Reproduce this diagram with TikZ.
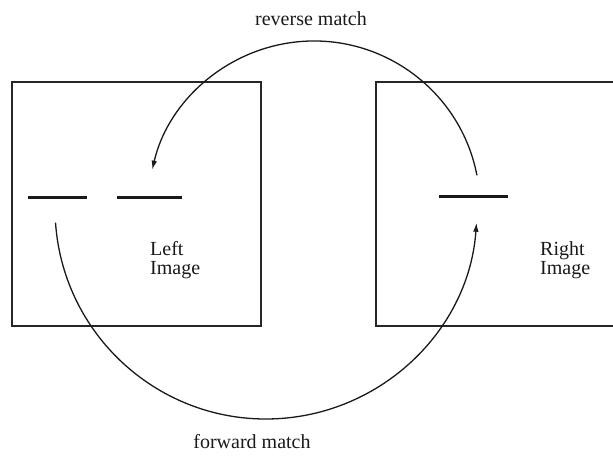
\documentclass[tikz,border=0pt]{standalone}
\usepackage{fontspec}
\setmainfont{Liberation Serif}
\usetikzlibrary{arrows.meta,calc}
\begin{document}
\begin{tikzpicture}[x=1pt,y=1pt,
  imgbox/.style={draw=black!85,line width=1.4pt},
  seg/.style={draw=black!90,line width=3pt},
  matcharc/.style={draw=black!90,line width=1.3pt,-{Latex[length=9pt,width=5.5pt]}},
  lbl/.style={font=\fontsize{20}{19.5}\selectfont,inner sep=0pt,text=black!90},
  imglbl/.style={lbl,align=left,anchor=north west}]
\useasboundingbox (0,0) rectangle (613,456);
\clip (0,0) rectangle (613,456);
% image boxes
\draw[imgbox] (12,130) rectangle (261,374);
\draw[imgbox] (376,130) rectangle (640,374);
\node[imglbl] (lefttxt) at (150,215) {Left\\Image};
\node[imglbl] (righttxt) at (540,215) {Right\\Image};
% segments
\coordinate (l1a) at (28,259); \coordinate (l1b) at (87,259);
\coordinate (l2a) at (117,259); \coordinate (l2b) at (182,259);
\coordinate (r1a) at (439,260); \coordinate (r1b) at (508,260);
\draw[seg] (l1a) -- (l1b);
\draw[seg] (l2a) -- (l2b);
\draw[seg] (r1a) -- (r1b);
% arcs
\coordinate (revstart) at ($(314,249)+(11:166)$);
\coordinate (fwdstart) at ($(266,248)+(184:211)$);
\draw[matcharc] (revstart) arc[start angle=11,end angle=167,radius=166];
\draw[matcharc] (fwdstart) arc[start angle=184,end angle=356,radius=211];
% labels
\node[lbl] (rev) at (311,437) {reverse match};
\node[lbl] (fwd) at (252,14) {forward match};
\end{tikzpicture}
\end{document}
